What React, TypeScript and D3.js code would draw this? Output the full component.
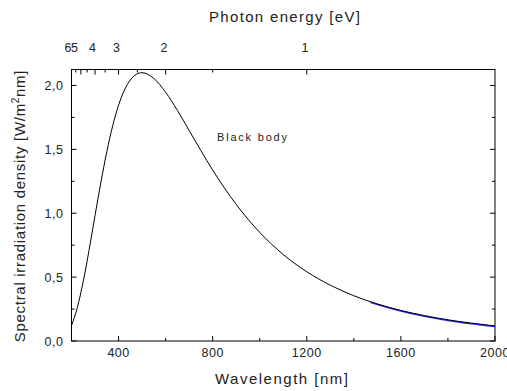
import React from "react";
import * as d3 from "d3";

// Wavelength samples [nm] and spectral irradiance density [W/m²nm]
const wavelengths = [200, 225, 250, 275, 300, 325, 350, 375, 400, 425, 450, 475, 500, 550, 600, 650, 700, 750, 800, 900, 1000, 1100, 1200, 1300, 1400, 1500, 1600, 1700, 1800, 1900, 2000];
const irradiance = [0.12, 0.263, 0.467, 0.715, 0.982, 1.243, 1.481, 1.684, 1.845, 1.964, 2.043, 2.087, 2.1, 2.055, 1.947, 1.805, 1.648, 1.49, 1.338, 1.069, 0.85, 0.677, 0.542, 0.437, 0.354, 0.29, 0.239, 0.199, 0.166, 0.14, 0.118];

// second (blue) series visible underneath in the long-wavelength part
const blueWavelengths = [1470, 1500, 1600, 1700, 1800, 1900, 2000];
const blueIrradiance = [0.307, 0.29, 0.239, 0.199, 0.166, 0.14, 0.118];

const xMajorTicks = [400, 800, 1200, 1600, 2000];
const xMinorTicks = [600, 1000, 1400, 1800];
const yMajorTicks = [0, 0.5, 1.0, 1.5, 2.0];
const yMinorTicks = [0.25, 0.75, 1.25, 1.75];
const eVMajor = [6, 5, 4, 3, 2, 1];
const eVMinor = [5.5, 4.5, 3.5, 2.5, 1.5];

const W = 507;
const H = 391;
const M = { left: 71.5, right: 495, top: 69.5, bottom: 341 };

export default function App() {
  const x = d3.scaleLinear().domain([200, 2000]).range([M.left, M.right]);
  const y = d3.scaleLinear().domain([0, 2.125]).range([M.bottom, M.top]);
  const eToX = (e: number) => x(1200 / e);
  const eLabelShift: Record<number, number> = { 6: -3.5, 5: -6.5, 4: -2.5, 3: -2, 2: -1.6, 1: -1.8 };

  const pts = wavelengths.map((w, i) => [w, irradiance[i]] as [number, number]);
  const bpts = blueWavelengths.map((w, i) => [w, blueIrradiance[i]] as [number, number]);
  const line = d3
    .line<[number, number]>()
    .x((d) => x(d[0]))
    .y((d) => y(d[1]))
    .curve(d3.curveMonotoneX);
  const blueLine = d3
    .line<[number, number]>()
    .x((d) => x(d[0]))
    .y((d) => y(d[1]) + 0.6)
    .curve(d3.curveMonotoneX);

  const font = "'Liberation Sans', Arial, sans-serif";
  const tc = "#222";
  const maj = 5;
  const min = 3;
  const tfs = 12.5;

  return (
    <svg width={W} height={H} style={{ position: "absolute", left: 0, top: 0, background: "#fff" }} fontFamily={font}>
      <rect x={0} y={0} width={W} height={H} fill="#fff" />
      {/* frame */}
      <rect x={M.left} y={M.top} width={M.right - M.left} height={M.bottom - M.top} fill="none" stroke="#000" strokeWidth={1} />

      {/* bottom ticks */}
      {xMajorTicks.map((t) => (
        <g key={"xb" + t}>
          <line x1={x(t)} x2={x(t)} y1={M.bottom} y2={M.bottom - maj} stroke="#000" />
          <text x={x(t)} y={357} fontSize={tfs} letterSpacing={0.5} textAnchor="middle" fill={tc}>{t}</text>
        </g>
      ))}
      {xMinorTicks.map((t) => (
        <line key={"xm" + t} x1={x(t)} x2={x(t)} y1={M.bottom} y2={M.bottom - min} stroke="#000" />
      ))}

      {/* top eV ticks */}
      {eVMajor.map((e) => (
        <g key={"e" + e}>
          <line x1={eToX(e)} x2={eToX(e)} y1={M.top} y2={M.top + maj} stroke="#000" />
          <text x={eToX(e) + eLabelShift[e]} y={52} fontSize={tfs} textAnchor="middle" fill={tc}>{e}</text>
        </g>
      ))}
      {eVMinor.map((e) => (
        <line key={"em" + e} x1={eToX(e)} x2={eToX(e)} y1={M.top} y2={M.top + min} stroke="#000" />
      ))}

      {/* left and right ticks */}
      {yMajorTicks.map((t) => (
        <g key={"y" + t}>
          <line x1={M.left} x2={M.left + maj} y1={y(t)} y2={y(t)} stroke="#000" />
          <line x1={M.right} x2={M.right - maj} y1={y(t)} y2={y(t)} stroke="#000" />
          <text x={63.5} y={y(t) + 4.5} fontSize={tfs} letterSpacing={0.5} textAnchor="end" fill={tc}>{t.toFixed(1).replace(".", ",")}</text>
        </g>
      ))}
      {yMinorTicks.map((t) => (
        <g key={"ym" + t}>
          <line x1={M.left} x2={M.left + min} y1={y(t)} y2={y(t)} stroke="#000" />
          <line x1={M.right} x2={M.right - min} y1={y(t)} y2={y(t)} stroke="#000" />
        </g>
      ))}

      {/* curves */}
      <path d={blueLine(bpts) || ""} fill="none" stroke="#2a2aff" strokeWidth={1.5} />
      <path d={line(pts) || ""} fill="none" stroke="#000" strokeWidth={1} />

      <text x={217} y={141} fontSize={11} fill={tc} textLength={70} lengthAdjust="spacing">Black body</text>

      {/* axis titles */}
      <text x={209} y={22} fontSize={15} fill={tc} textLength={151} lengthAdjust="spacing">Photon energy [eV]</text>
      <text x={215} y={384} fontSize={15} fill={tc} textLength={133} lengthAdjust="spacing">Wavelength [nm]</text>
      <text transform="translate(25,206) rotate(-90)" fontSize={15} letterSpacing={0.7} textAnchor="middle" fill={tc}>
        Spectral irradiation density [W/m
        <tspan fontSize={10} dy={-6}>2</tspan>
        <tspan dy={6}>nm]</tspan>
      </text>
    </svg>
  );
}
